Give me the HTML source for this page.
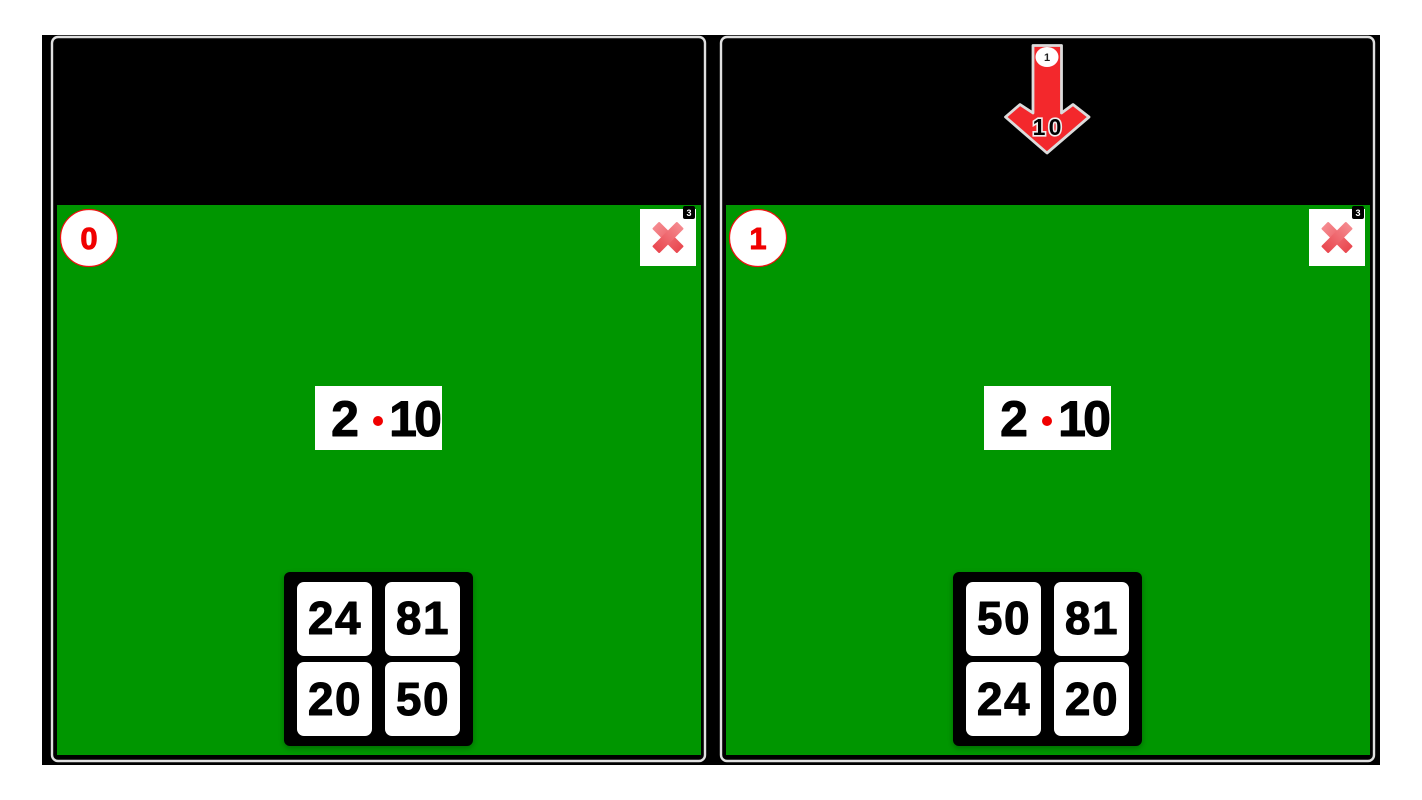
<!DOCTYPE html>
<html>
<head>
<meta charset="utf-8">
<style>
html,body{margin:0;padding:0;background:#fff;width:1422px;height:800px;overflow:hidden}
svg{display:block}
text{font-family:"Liberation Sans",sans-serif;font-weight:700;text-anchor:middle}
.b{stroke:#000;stroke-width:1px;stroke-linejoin:round;letter-spacing:1.500px}
.r{stroke:#f00000;stroke-width:.9px;stroke-linejoin:round}
.e{stroke:#000;stroke-width:1px;stroke-linejoin:round}
</style>
</head>
<body>
<svg width="1422" height="800" viewBox="0 0 1422 800" xmlns="http://www.w3.org/2000/svg">
<defs>
<filter id="sh" x="-20%" y="-20%" width="140%" height="140%"><feGaussianBlur stdDeviation="3"/></filter>
<linearGradient id="x1" x1="0" y1="0" x2="1" y2="0"><stop offset="0" stop-color="#f58a8f"/><stop offset="1" stop-color="#e9474f"/></linearGradient>
<linearGradient id="x2" x1="0" y1="0" x2="0" y2="1"><stop offset="0" stop-color="#f58a8f"/><stop offset="1" stop-color="#e9474f"/></linearGradient>
</defs>
<rect x="42" y="35" width="1338" height="730" fill="#000"/>

<!-- left panel -->
<g>
<rect x="52" y="37" width="653" height="724" rx="6" fill="#000" stroke="#e0e0e0" stroke-width="2.4"/>
<rect x="57" y="205" width="644" height="550" fill="#009600"/>
<circle cx="89" cy="238" r="28.500" fill="#fff" stroke="#f01010" stroke-width="1.200"/>
<text class="r" x="89" y="249" font-size="31" fill="#f00000">0</text>
<rect x="640" y="209" width="56" height="57" fill="#fff"/>
<g transform="translate(668 237.500) rotate(45)">
<rect x="-17.500" y="-5" width="35" height="10" rx="1" fill="url(#x1)"/>
<rect x="-5" y="-17.500" width="10" height="35" rx="1" fill="url(#x2)"/>
</g>
<rect x="683" y="206" width="12" height="13" rx="2" fill="#000"/>
<text x="689" y="216" font-size="9" fill="#fff">3</text>
<rect x="315" y="386" width="127" height="64" fill="#fff"/>
<text class="e" x="345" y="436" font-size="50" fill="#000">2</text>
<circle cx="378" cy="421" r="5" fill="#f00000"/>
<text class="e" x="403 428" y="436" font-size="50" fill="#000">10</text>
<rect x="284" y="574" width="189" height="174" rx="6" fill="#000" opacity=".3" filter="url(#sh)"/>
<rect x="284" y="572" width="189" height="174" rx="6" fill="#000"/>
<rect x="297" y="582" width="75" height="74" rx="7" fill="#fff"/>
<rect x="385" y="582" width="75" height="74" rx="7" fill="#fff"/>
<rect x="297" y="662" width="75" height="74" rx="7" fill="#fff"/>
<rect x="385" y="662" width="75" height="74" rx="7" fill="#fff"/>
<text class="b" x="335" y="634" font-size="46" fill="#000">24</text>
<text class="b" x="423" y="634" font-size="46" fill="#000">81</text>
<text class="b" x="335" y="715" font-size="46" fill="#000">20</text>
<text class="b" x="423" y="715" font-size="46" fill="#000">50</text>
</g>

<!-- right panel -->
<g transform="translate(669 0)">
<rect x="52" y="37" width="653" height="724" rx="6" fill="#000" stroke="#e0e0e0" stroke-width="2.400"/>
<rect x="57" y="205" width="644" height="550" fill="#009600"/>
<circle cx="89" cy="238" r="28.500" fill="#fff" stroke="#f01010" stroke-width="1.200"/>
<text class="r" x="89" y="249" font-size="31" fill="#f00000">1</text>
<rect x="640" y="209" width="56" height="57" fill="#fff"/>
<g transform="translate(668 237.500) rotate(45)">
<rect x="-17.500" y="-5" width="35" height="10" rx="1" fill="url(#x1)"/>
<rect x="-5" y="-17.500" width="10" height="35" rx="1" fill="url(#x2)"/>
</g>
<rect x="683" y="206" width="12" height="13" rx="2" fill="#000"/>
<text x="689" y="216" font-size="9" fill="#fff">3</text>
<rect x="315" y="386" width="127" height="64" fill="#fff"/>
<text class="e" x="345" y="436" font-size="50" fill="#000">2</text>
<circle cx="378" cy="421" r="5" fill="#f00000"/>
<text class="e" x="403 428" y="436" font-size="50" fill="#000">10</text>
<rect x="284" y="574" width="189" height="174" rx="6" fill="#000" opacity=".3" filter="url(#sh)"/>
<rect x="284" y="572" width="189" height="174" rx="6" fill="#000"/>
<rect x="297" y="582" width="75" height="74" rx="7" fill="#fff"/>
<rect x="385" y="582" width="75" height="74" rx="7" fill="#fff"/>
<rect x="297" y="662" width="75" height="74" rx="7" fill="#fff"/>
<rect x="385" y="662" width="75" height="74" rx="7" fill="#fff"/>
<text class="b" x="335" y="634" font-size="46" fill="#000">50</text>
<text class="b" x="423" y="634" font-size="46" fill="#000">81</text>
<text class="b" x="335" y="715" font-size="46" fill="#000">24</text>
<text class="b" x="423" y="715" font-size="46" fill="#000">20</text>
</g>

<!-- arrow -->
<path d="M1033 45.500H1061.500V113L1073 104.500L1089 117L1047 153L1005.500 117L1020 104.500L1033 113Z" fill="#f3282c" stroke="#dcdcdc" stroke-width="2.800" stroke-linejoin="round"/>
<ellipse cx="1047" cy="57" rx="11.500" ry="10" fill="#fff"/>
<text x="1047" y="61" font-size="11" fill="#222">1</text>
<text x="1039 1055" y="135" font-size="23" fill="#000" stroke="#eee" stroke-width="3.200" paint-order="stroke">10</text>
</svg>
</body>
</html>
